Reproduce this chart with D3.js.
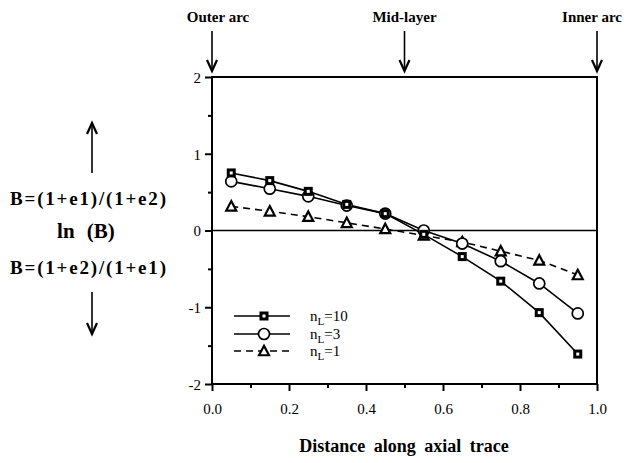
<!DOCTYPE html>
<html>
<head>
<meta charset="utf-8">
<script src="https://cdn.jsdelivr.net/npm/d3@7"></script>
<style>
  html, body { margin: 0; padding: 0; background: #fff; }
  svg { display: block; }
  text { font-family: "Liberation Serif", "Times New Roman", serif; fill: #000; }
</style>
</head>
<body>
<svg id="chart" width="634" height="463"></svg>
<script>
// Distance along the axial trace (normalised) at which ln(B) was computed
const distance = [0.05, 0.15, 0.25, 0.35, 0.45, 0.55, 0.65, 0.75, 0.85, 0.95];
// ln(B) for each layer-viscosity contrast nL
const lnB_n10 = [0.75, 0.65, 0.51, 0.34, 0.22, -0.05, -0.34, -0.66, -1.07, -1.61];
const lnB_n3  = [0.64, 0.545, 0.445, 0.325, 0.22, 0.0, -0.17, -0.40, -0.69, -1.08];
const lnB_n1  = [0.315, 0.25, 0.18, 0.10, 0.02, -0.065, -0.15, -0.27, -0.39, -0.58];
const seriesNames = ["10", "3", "1"];
const xTicks = [0, 0.1, 0.2, 0.3, 0.4, 0.5, 0.6, 0.7, 0.8, 0.9, 1.0];
const yTicks = [-2, -1.5, -1, -0.5, 0, 0.5, 1, 1.5, 2];
const positionMarks = [
  { at: 0.0, label: "Outer arc", dx: 6 },
  { at: 0.5, label: "Mid-layer", dx: 0 },
  { at: 1.0, label: "Inner arc", dx: -5 }
];

const svg = d3.select("#chart");
const plotLeft = 212, plotRight = 597, plotTop = 77, plotBottom = 384;

const x = d3.scaleLinear().domain([0, 1]).range([plotLeft, plotRight]);
const y = d3.scaleLinear().domain([-2, 2]).range([plotBottom, plotTop]);

// Frame
svg.append("rect")
  .attr("x", plotLeft).attr("y", plotTop)
  .attr("width", plotRight - plotLeft).attr("height", plotBottom - plotTop)
  .attr("fill", "none").attr("stroke", "#000").attr("stroke-width", 2);

// Zero line
svg.append("line")
  .attr("x1", x(0)).attr("x2", x(1))
  .attr("y1", y(0)).attr("y2", y(0))
  .attr("stroke", "#000").attr("stroke-width", 1.6);

// Axes
const isMajorX = d => Math.abs(Math.round(d * 10) % 2) === 0;
const xAxis = d3.axisBottom(x).tickValues(xTicks).tickSizeOuter(0)
  .tickFormat(d => isMajorX(d) ? d3.format(".1f")(d) : "");
const gx = svg.append("g").attr("transform", `translate(0,${plotBottom})`).call(xAxis);
gx.select(".domain").remove();
gx.selectAll(".tick line")
  .attr("y2", d => isMajorX(d) ? 7 : 4)
  .attr("stroke", "#000").attr("stroke-width", 2);
gx.selectAll(".tick text")
  .attr("y", 19).attr("dy", "0.71em")
  .style("font-size", "15px").style("font-family", "Liberation Serif, serif");

const isMajorY = d => Number.isInteger(d);
const yAxis = d3.axisLeft(y).tickValues(yTicks).tickSizeOuter(0)
  .tickFormat(d => isMajorY(d) ? String(d) : "");
const gy = svg.append("g").attr("transform", `translate(${plotLeft},0)`).call(yAxis);
gy.select(".domain").remove();
gy.selectAll(".tick line")
  .attr("x2", d => isMajorY(d) ? -7 : -4)
  .attr("stroke", "#000").attr("stroke-width", 2);
gy.selectAll(".tick text")
  .attr("x", -11).attr("dy", "0.35em")
  .style("font-size", "15px").style("font-family", "Liberation Serif, serif");

// Series
const series = [
  { name: seriesNames[0], values: lnB_n10, marker: "square", dash: null },
  { name: seriesNames[1], values: lnB_n3, marker: "circle", dash: null },
  { name: seriesNames[2], values: lnB_n1, marker: "triangle", dash: "7,5" }
];

const line = d3.line().x(d => x(d[0])).y(d => y(d[1]));

function drawMarker(g, type, cx, cy) {
  if (type === "square") {
    g.append("rect").attr("x", cx - 4.5).attr("y", cy - 4.5)
      .attr("width", 9).attr("height", 9).attr("fill", "#000");
    g.append("rect").attr("x", cx - 1.5).attr("y", cy - 1.5)
      .attr("width", 3).attr("height", 3).attr("fill", "#fff");
  } else if (type === "circle") {
    g.append("circle").attr("cx", cx).attr("cy", cy).attr("r", 5.5)
      .attr("fill", "#fff").attr("stroke", "#000").attr("stroke-width", 1.7);
  } else {
    const s = 10, h = 8.5;
    g.append("path")
      .attr("d", `M${cx},${cy - h / 2 - 1}L${cx + s / 2},${cy + h / 2}L${cx - s / 2},${cy + h / 2}Z`)
      .attr("fill", "#fff").attr("stroke", "#000").attr("stroke-width", 2.2)
      .attr("stroke-linejoin", "miter");
  }
}

series.forEach(s => {
  const pts = distance.map((d, i) => [d, s.values[i]]);
  svg.append("path").datum(pts)
    .attr("d", line)
    .attr("fill", "none").attr("stroke", "#000").attr("stroke-width", 1.6)
    .attr("stroke-dasharray", s.dash);
});
series.slice().reverse().forEach(s => {
  const g = svg.append("g");
  distance.forEach((d, i) => drawMarker(g, s.marker, x(d), y(s.values[i])));
});

// Legend
const legend = svg.append("g");
const legendY = [316, 334, 351];
series.forEach((s, i) => {
  const ly = legendY[i];
  legend.append("line")
    .attr("x1", 234).attr("x2", 290).attr("y1", ly).attr("y2", ly)
    .attr("stroke", "#000").attr("stroke-width", 1.6)
    .attr("stroke-dasharray", s.dash);
  drawMarker(legend, s.marker, 264, ly);
  const t = legend.append("text").attr("x", 310).attr("y", ly).attr("dy", "0.35em")
    .style("font-size", "15px");
  t.append("tspan").text("n");
  t.append("tspan").attr("dy", "0.3em").style("font-size", "11px").text("L");
  t.append("tspan").attr("dy", "-0.25em").text("=" + s.name);
});

// Position annotations with arrows along the top
function arrow(xPos, y1, y2) {
  const dir = y2 > y1 ? 1 : -1;
  svg.append("line").attr("x1", xPos).attr("x2", xPos).attr("y1", y1).attr("y2", y2)
    .attr("stroke", "#000").attr("stroke-width", 1.6);
  svg.append("path")
    .attr("d", `M${xPos - 5},${y2 - dir * 11}L${xPos},${y2}L${xPos + 5},${y2 - dir * 11}`)
    .attr("fill", "none").attr("stroke", "#000").attr("stroke-width", 2.2);
}

positionMarks.forEach(p => {
  svg.append("text")
    .attr("x", x(p.at) + p.dx).attr("y", 22)
    .attr("text-anchor", "middle")
    .style("font-size", "15px").style("font-weight", "bold")
    .text(p.label);
  arrow(x(p.at), 31, 71);
});

// Y-axis description
const yLab = svg.append("g").style("font-weight", "bold");
yLab.append("text").attr("x", 88).attr("y", 205).attr("text-anchor", "middle")
  .attr("textLength", 156).attr("lengthAdjust", "spacing")
  .style("font-size", "19px").text("B=(1+e1)/(1+e2)");
yLab.append("text").attr("x", 86).attr("y", 238).attr("text-anchor", "middle")
  .style("font-size", "21px").style("word-spacing", "7px").text("ln (B)");
yLab.append("text").attr("x", 88).attr("y", 274).attr("text-anchor", "middle")
  .attr("textLength", 156).attr("lengthAdjust", "spacing")
  .style("font-size", "19px").text("B=(1+e2)/(1+e1)");
arrow(92, 173, 123);
arrow(92, 292, 334);

// X-axis title
svg.append("text")
  .attr("x", 404).attr("y", 452).attr("text-anchor", "middle")
  .style("font-size", "18px").style("font-weight", "bold")
  .style("word-spacing", "4px")
  .text("Distance along axial trace");
</script>
</body>
</html>
